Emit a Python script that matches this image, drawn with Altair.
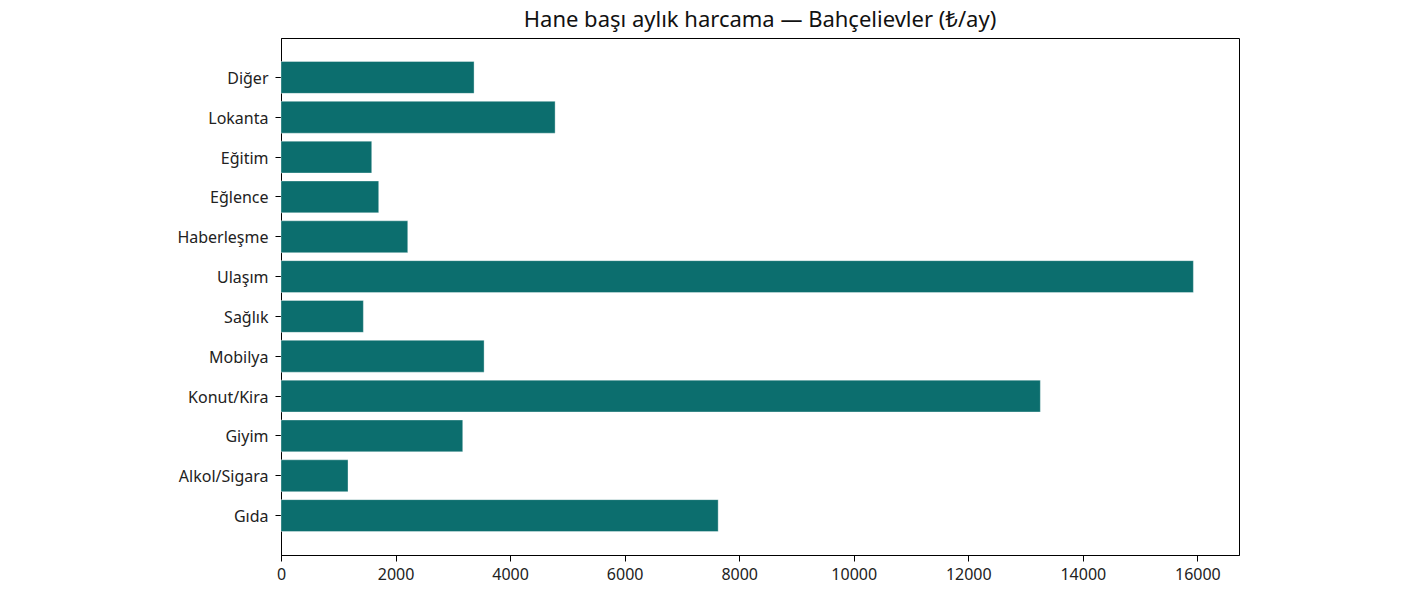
import altair as alt
import pandas as pd

categories = ["Gıda", "Alkol/Sigara", "Giyim", "Konut/Kira", "Mobilya", "Sağlık",
              "Ulaşım", "Haberleşme", "Eğlence", "Eğitim", "Lokanta", "Diğer"]
values = [7633, 1170, 3173, 13258, 3546, 1438, 15930, 2213, 1706, 1584, 4786, 3371]
tick_values = [0, 2000, 4000, 6000, 8000, 10000, 12000, 14000, 16000]
title_text = "Hane başı aylık harcama — Bahçeli̇evler (₺/ay)"

df = pd.DataFrame({"kategori": categories, "tutar": values})
xmax = max(values) * 1.05

FONT = "Noto Sans"

chart = alt.Chart(df).mark_bar(
    color="#0c6e6e", stroke="#ffffff", strokeWidth=0.6, strokeOpacity=0.6
).encode(
    x=alt.X("tutar:Q",
            scale=alt.Scale(domain=[0, xmax], nice=False, zero=True),
            axis=alt.Axis(values=tick_values, title=None, grid=False, format="d",
                          labelFontSize=16, labelColor="#222222", labelFont=FONT,
                          tickColor="#000000", domainColor="#000000",
                          tickSize=6, labelPadding=5, labelFlush=False)),
    y=alt.Y("kategori:N", sort=categories[::-1],
            scale=alt.Scale(paddingInner=0.2, paddingOuter=0.59),
            axis=alt.Axis(title=None, grid=False,
                          labelFontSize=16, labelColor="#222222", labelFont=FONT,
                          tickColor="#000000", domainColor="#000000",
                          tickSize=6, labelPadding=7, labelOffset=1.5)),
).properties(
    width=958,
    height=517,
    background="#ffffff",
    title=alt.TitleParams(title_text, fontSize=22, font=FONT, fontWeight="normal",
                          color="#111111", anchor="middle", offset=6),
    autosize=alt.AutoSizeParams(type="none"),
    padding={"left": 273, "top": 30, "right": 170, "bottom": 40},
).configure_view(
    stroke="#000000", strokeWidth=1
)

chart.save("out.html", embed_options={"renderer": "svg", "actions": False})
